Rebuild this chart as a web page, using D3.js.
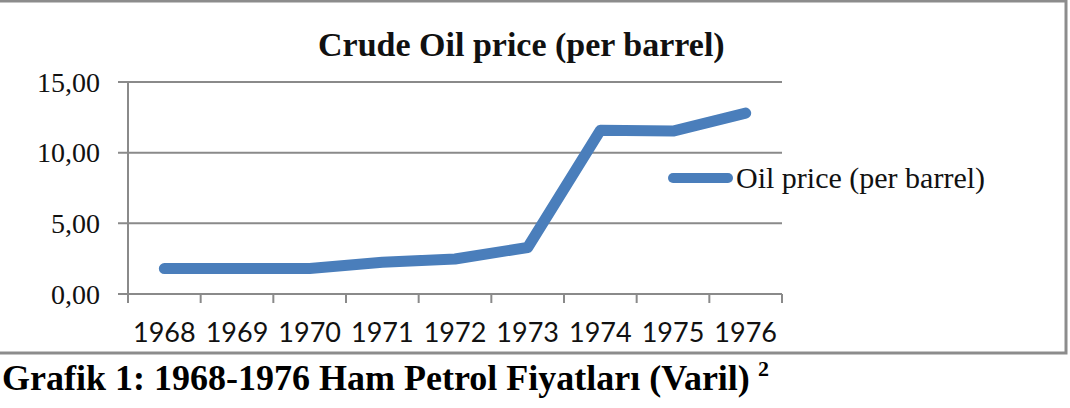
<!DOCTYPE html>
<html>
<head>
<meta charset="utf-8">
<script src="https://cdn.jsdelivr.net/npm/d3@7"></script>
<style>
  body { margin: 0; background: #fff; }
  svg { display: block; }
</style>
</head>
<body>
<svg id="chart" width="1070" height="408"></svg>
<script>
// Chart data
const years = ['1968', '1969', '1970', '1971', '1972', '1973', '1974', '1975', '1976'];
const oilPrice = [1.80, 1.80, 1.80, 2.24, 2.48, 3.29, 11.58, 11.53, 12.80];
const yTicks = [0, 5, 10, 15];

const chartTitle = 'Crude Oil price (per barrel)';
const seriesName = 'Oil price (per barrel)';
const caption = 'Grafik 1: 1968-1976 Ham Petrol Fiyatları (Varil)';

const lineColor = '#4a7ebb';
const gridColor = '#8a8a8a';

const svg = d3.select('#chart');

// Outer chart frame
svg.append('rect')
  .attr('x', -2)
  .attr('y', 1)
  .attr('width', 1068)
  .attr('height', 352)
  .attr('fill', '#fff')
  .attr('stroke', '#8c8c8c')
  .attr('stroke-width', 3);

// Scales
const x = d3.scaleBand().domain(years).range([128, 782]);
const y = d3.scaleLinear().domain([0, 15]).range([294, 82]);

// Comma decimal format (Turkish style)
const locale = d3.formatLocale({ decimal: ',', thousands: '.', grouping: [3], currency: ['', ''] });
const fmt = locale.format('.2f');

// Horizontal gridlines, starting a bit left of the axis like Excel ticks
svg.append('g')
  .selectAll('line')
  .data(yTicks)
  .join('line')
  .attr('x1', 118)
  .attr('x2', x.range()[1])
  .attr('y1', d => y(d))
  .attr('y2', d => y(d))
  .attr('stroke', gridColor)
  .attr('stroke-width', 2);

// Y axis labels
svg.append('g')
  .selectAll('text')
  .data(yTicks)
  .join('text')
  .attr('x', 100)
  .attr('y', d => y(d))
  .attr('dy', '0.34em')
  .attr('text-anchor', 'end')
  .attr('font-family', 'Liberation Serif, serif')
  .attr('font-size', 28)
  .attr('fill', '#111')
  .text(d => fmt(d));

// Y axis line
svg.append('line')
  .attr('x1', x.range()[0])
  .attr('x2', x.range()[0])
  .attr('y1', y(15))
  .attr('y2', y(0) + 9)
  .attr('stroke', gridColor)
  .attr('stroke-width', 2);

// X tick marks at category boundaries
const boundaries = years.map(d => x(d)).concat([x.range()[1]]);
svg.append('g')
  .selectAll('line')
  .data(boundaries)
  .join('line')
  .attr('x1', d => d)
  .attr('x2', d => d)
  .attr('y1', y(0))
  .attr('y2', y(0) + 9)
  .attr('stroke', gridColor)
  .attr('stroke-width', 2);

// X axis labels via d3 axis (no tick lines)
const xAxis = svg.append('g')
  .attr('transform', `translate(0,${y(0)})`)
  .call(d3.axisBottom(x).tickSize(0).tickPadding(0));
xAxis.select('.domain').remove();
xAxis.selectAll('text')
  .attr('y', 48)
  .attr('dy', 0)
  .attr('font-family', 'Lato, sans-serif')
  .attr('font-size', 27)
  .attr('fill', '#111');

// Data line
const line = d3.line()
  .x((d, i) => x(years[i]) + x.bandwidth() / 2)
  .y(d => y(d));

svg.append('path')
  .datum(oilPrice)
  .attr('d', line)
  .attr('fill', 'none')
  .attr('stroke', lineColor)
  .attr('stroke-width', 11)
  .attr('stroke-linecap', 'round')
  .attr('stroke-linejoin', 'round');

// Title
svg.append('text')
  .attr('x', 318)
  .attr('y', 56)
  .attr('font-family', 'Liberation Serif, serif')
  .attr('font-weight', 'bold')
  .attr('font-size', 34)
  .attr('fill', '#111')
  .text(chartTitle);

// Legend
svg.append('line')
  .attr('x1', 673)
  .attr('x2', 728)
  .attr('y1', 178)
  .attr('y2', 178)
  .attr('stroke', lineColor)
  .attr('stroke-width', 10)
  .attr('stroke-linecap', 'round');

svg.append('text')
  .attr('x', 736)
  .attr('y', 188)
  .attr('font-family', 'Liberation Serif, serif')
  .attr('font-size', 30)
  .attr('fill', '#111')
  .text(seriesName);

// Caption below the chart
const cap = svg.append('text')
  .attr('x', 2)
  .attr('y', 390)
  .attr('font-family', 'Liberation Serif, serif')
  .attr('font-weight', 'bold')
  .attr('font-size', 36)
  .attr('fill', '#000')
  .text(caption);

cap.append('tspan')
  .attr('dx', 8)
  .attr('dy', -14)
  .attr('font-size', 22)
  .text('2');
</script>
</body>
</html>
